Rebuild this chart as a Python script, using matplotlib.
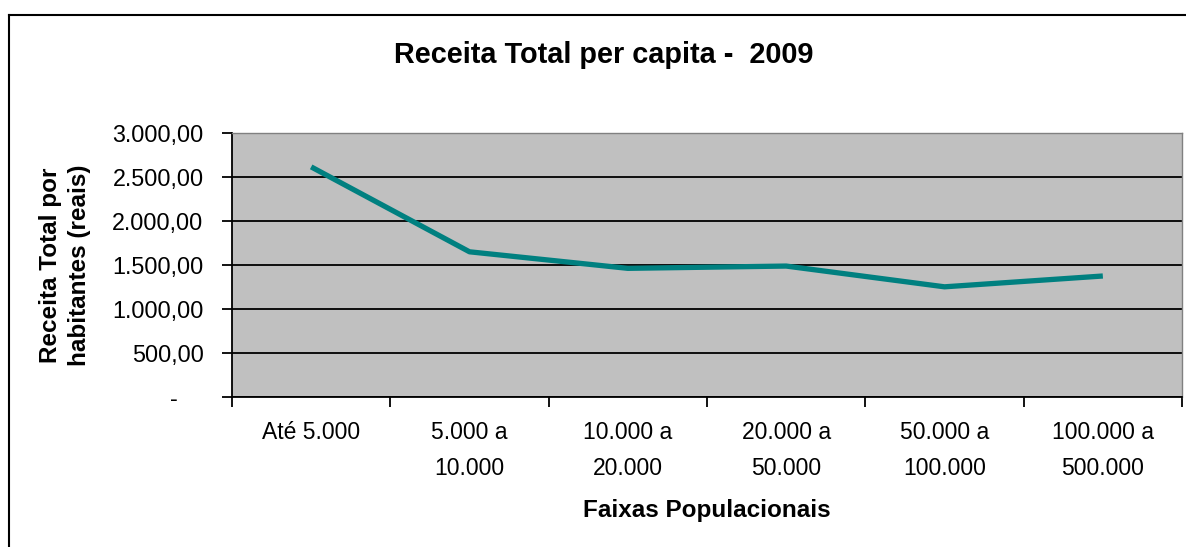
import matplotlib
matplotlib.use("Agg")
import matplotlib.pyplot as plt
from matplotlib.lines import Line2D
from matplotlib.ticker import FixedLocator, NullFormatter, FixedFormatter

categories = ["Até 5.000", "5.000 a\n10.000", "10.000 a\n20.000", "20.000 a\n50.000",
              "50.000 a\n100.000", "100.000 a\n500.000"]
values = [2615, 1650, 1462, 1488, 1252, 1375]
ytick_values = [0, 500, 1000, 1500, 2000, 2500, 3000]
ytick_labels = ["-    ", "500,00", "1.000,00", "1.500,00", "2.000,00", "2.500,00", "3.000,00"]

plt.rcParams['font.family'] = ['Liberation Sans', 'DejaVu Sans']

W, H = 1186, 547
fig = plt.figure(figsize=(W / 100, H / 100), dpi=100)
fig.patch.set_facecolor("white")

# outer chart border (left and top visible)
fig.add_artist(Line2D([9 / W, 9 / W], [0, 1 - 15 / H], color="black", lw=1.5, transform=fig.transFigure))
fig.add_artist(Line2D([9 / W, 1], [1 - 15 / H, 1 - 15 / H], color="black", lw=1.5, transform=fig.transFigure))

L, R, T, B = 232, 1182, 133, 397
ax = fig.add_axes([L / W, (H - B) / H, (R - L) / W, (B - T) / H])
ax.set_facecolor("#C0C0C0")

n = len(categories)
x = [i + 0.5 for i in range(n)]
ax.plot(x, values, color="#008080", lw=3.8, solid_capstyle="butt", zorder=3)

ax.set_xlim(0, n)
ax.set_ylim(0, 3000)
ax.set_yticks(ytick_values)
ax.set_yticklabels(ytick_labels, fontsize=16.8)
ax.yaxis.grid(True, color="black", lw=1.3)
ax.set_axisbelow(True)

ax.xaxis.set_major_locator(FixedLocator(list(range(n + 1))))
ax.xaxis.set_major_formatter(NullFormatter())
ax.xaxis.set_minor_locator(FixedLocator(x))
ax.xaxis.set_minor_formatter(FixedFormatter(categories))
ax.tick_params(axis="x", which="minor", length=0, pad=17, labelsize=16.5)
ax.tick_params(axis="x", which="major", length=7, width=1.3, direction="out")
ax.tick_params(axis="y", length=7, width=1.3, direction="out", pad=13.5)
for lab in ax.xaxis.get_minorticklabels():
    lab.set_linespacing(1.72)

for s in ["left", "bottom"]:
    ax.spines[s].set_color("black")
    ax.spines[s].set_linewidth(1.3)
for s in ["top", "right"]:
    ax.spines[s].set_color("#808080")
    ax.spines[s].set_linewidth(1.0)

fig.text(604 / W, 1 - 55 / H, "Receita Total per capita -  2009", ha="center", va="center",
         fontsize=20.8, fontweight="bold")
fig.text(707 / W, 1 - 511 / H, "Faixas Populacionais", ha="center", va="center",
         fontsize=17.5, fontweight="bold")
fig.text(65 / W, 1 - 265 / H, "Receita Total por\nhabitantes (reais)", ha="center", va="center",
         rotation=90, fontsize=17.5, fontweight="bold", linespacing=1.33)

fig.savefig("out.png", dpi=100, facecolor="white")
